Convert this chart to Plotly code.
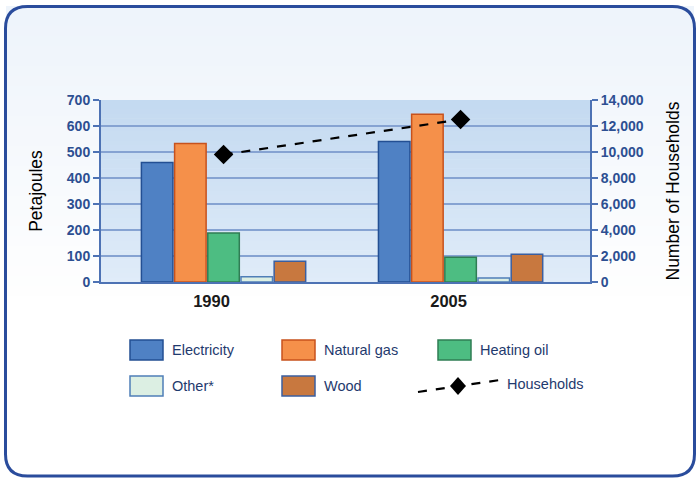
import plotly.graph_objects as go

# ---- data -------------------------------------------------------------
years = ["1990", "2005"]
series_names = ["Electricity", "Natural gas", "Heating oil", "Other*", "Wood"]
electricity = [460, 540]
natural_gas = [533, 645]
heating_oil = [188, 95]
other = [20, 15]
wood = [80, 107]
households = [9800, 12500]

y_ticks = [0, 100, 200, 300, 400, 500, 600, 700]
y2_ticks = [0, 2000, 4000, 6000, 8000, 10000, 12000, 14000]
y2_tick_labels = ["0", "2,000", "4,000", "6,000", "8,000", "10,000", "12,000", "14,000"]

# ---- styling ----------------------------------------------------------
W, H = 696, 478
L, R, T, B = 101, 590, 100, 282  # plot area in pixels
FONT = "Liberation Sans, Arial, sans-serif"
NAVY = "#2d4f92"

fills = ["#4f81c4", "#f5904a", "#4dbd82", "#dcefe3", "#c8783f"]
edges = ["#234f93", "#c7521d", "#2f7d54", "#4f7fb8", "#3b5fa0"]
values = [electricity, natural_gas, heating_oil, other, wood]


def px(x):
    return (x - L) / (R - L)


def py(y):
    return (B - y) / (B - T)


fig = go.Figure()

for name, vals, fc, ec in zip(series_names, values, fills, edges):
    fig.add_trace(go.Bar(
        x=years, y=vals, name=name,
        marker=dict(color=fc, line=dict(color=ec, width=1.5)),
        showlegend=False,
    ))

fig.add_trace(go.Scatter(
    x=years, y=households, name="Households", yaxis="y2",
    mode="lines+markers",
    line=dict(color="black", width=2.2, dash="dash"),
    marker=dict(symbol="diamond", size=15, color="black"),
    showlegend=False,
))

shapes = []

# outer panel: light background fading to white, with a rounded border
bg_top, bg_bottom = (238, 244, 251), (255, 255, 255)
n = 30
for i in range(n):
    y0 = 6 + i * (300 / n)
    y1 = y0 + 300 / n + 1
    t = i / (n - 1)
    c = tuple(int(bg_top[k] + (bg_bottom[k] - bg_top[k]) * t) for k in range(3))
    shapes.append(dict(type="rect", xref="paper", yref="paper", layer="below",
                       x0=px(6), x1=px(694), y0=py(y0), y1=py(min(y1, 320)),
                       fillcolor="rgb(%d,%d,%d)" % c, line=dict(width=0)))


def rounded_path(x0, y0, x1, y1, r):
    pts = [
        ("M", px(x0 + r), py(y0)),
        ("L", px(x1 - r), py(y0)),
        ("Q", px(x1), py(y0), px(x1), py(y0 + r)),
        ("L", px(x1), py(y1 - r)),
        ("Q", px(x1), py(y1), px(x1 - r), py(y1)),
        ("L", px(x0 + r), py(y1)),
        ("Q", px(x0), py(y1), px(x0), py(y1 - r)),
        ("L", px(x0), py(y0 + r)),
        ("Q", px(x0), py(y0), px(x0 + r), py(y0)),
    ]
    out = []
    for p in pts:
        cmd = p[0]
        nums = p[1:]
        out.append(cmd + " " + " ".join("%.5f,%.5f" % (nums[i], nums[i + 1]) for i in range(0, len(nums), 2)))
    return " ".join(out) + " Z"


shapes.append(dict(type="path", xref="paper", yref="paper", layer="below",
                   path=rounded_path(5.5, 6.5, 694.5, 476, 22),
                   line=dict(color="#2a4c9c", width=3), fillcolor="rgba(0,0,0,0)"))

# plot area gradient
pa_top, pa_bottom = (196, 218, 241), (224, 236, 249)
m = 40
for i in range(m):
    y0 = T + i * (B - T) / m
    y1 = y0 + (B - T) / m + 0.6
    t = i / (m - 1)
    c = tuple(int(pa_top[k] + (pa_bottom[k] - pa_top[k]) * t) for k in range(3))
    shapes.append(dict(type="rect", xref="paper", yref="paper", layer="below",
                       x0=0, x1=1, y0=py(y0), y1=py(min(y1, B)),
                       fillcolor="rgb(%d,%d,%d)" % c, line=dict(width=0)))

# ---- legend, drawn as swatches + labels --------------------------------
annotations = []
legend_cols = [130, 282, 438]
legend_rows = [350, 386]
legend_items = list(zip(series_names, fills, edges))
for idx, (name, fc, ec) in enumerate(legend_items):
    col, row = idx % 3, idx // 3
    x0 = legend_cols[col]
    yc = legend_rows[row]
    shapes.append(dict(type="rect", xref="paper", yref="paper",
                       x0=px(x0), x1=px(x0 + 33), y0=py(yc - 10), y1=py(yc + 10),
                       fillcolor=fc, line=dict(color=ec, width=1.5)))
    annotations.append(dict(xref="paper", yref="paper", x=px(x0 + 40), y=py(yc),
                            text=name, showarrow=False, xanchor="left", yanchor="middle",
                            font=dict(family=FONT, size=14.5, color="#1f3a6e")))

# households legend entry: dashed line with a diamond
shapes.append(dict(type="line", xref="paper", yref="paper",
                   x0=px(418), y0=py(392), x1=px(500), y1=py(380),
                   line=dict(color="black", width=2.2, dash="dash")))
shapes.append(dict(type="path", xref="paper", yref="paper",
                   path="M %.5f,%.5f L %.5f,%.5f L %.5f,%.5f L %.5f,%.5f Z" % (
                       px(458), py(377), px(466), py(386), px(458), py(395), px(450), py(386)),
                   fillcolor="black", line=dict(width=0)))
annotations.append(dict(xref="paper", yref="paper", x=px(505), y=py(384),
                        text="Households", showarrow=False, xanchor="left", yanchor="middle",
                        font=dict(family=FONT, size=14.5, color="#1f3a6e")))

fig.update_layout(
    width=W, height=H,
    margin=dict(l=L, r=W - R, t=T, b=H - B, pad=0),
    paper_bgcolor="white",
    plot_bgcolor="rgba(0,0,0,0)",
    barmode="group",
    bargap=0.30,
    bargroupgap=0.05,
    font=dict(family=FONT),
    shapes=shapes,
    annotations=annotations,
    xaxis=dict(
        type="category", range=[-0.517, 1.546],
        showline=True, linecolor="#4d72b4", linewidth=2,
        ticks="", showgrid=False,
        tickfont=dict(family=FONT, size=16.5, color="#1a1a1a", weight="bold"),
        ticklabelstandoff=3,
        ticklabelshift=-12,
    ),
    yaxis=dict(
        range=[0, 700], tickvals=y_ticks,
        showline=True, linecolor="#4d72b4", linewidth=2,
        ticks="outside", ticklen=6, tickcolor="#4d72b4", tickwidth=1.5,
        showgrid=True, gridcolor="#86a3d2", gridwidth=1.8,
        zeroline=False,
        tickfont=dict(family=FONT, size=14, color=NAVY, weight="bold"),
        title=dict(text="Petajoules", font=dict(family=FONT, size=17.5, color="black"), standoff=20),
    ),
    yaxis2=dict(
        range=[0, 14000], tickvals=y2_ticks, ticktext=y2_tick_labels,
        overlaying="y", side="right",
        showline=True, linecolor="#4d72b4", linewidth=2,
        ticks="outside", ticklen=6, tickcolor="#4d72b4", tickwidth=1.5,
        showgrid=False, zeroline=False,
        tickfont=dict(family=FONT, size=14, color=NAVY, weight="bold"),
        title=dict(text="Number of Households", font=dict(family=FONT, size=17.5, color="black"), standoff=24),
    ),
)

fig.write_html("out.html")
